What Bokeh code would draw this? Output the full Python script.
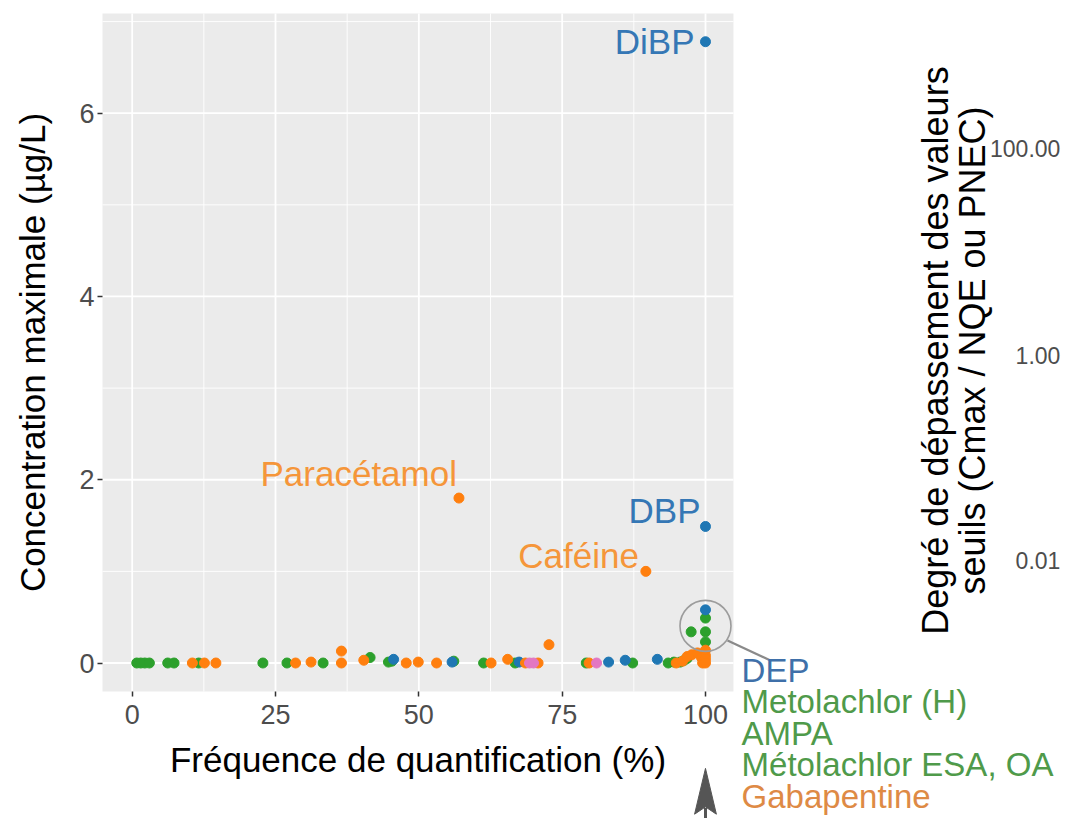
import math
from bokeh.plotting import figure
from bokeh.models import FixedTicker, Label, LinearAxis, Range1d
from bokeh.embed import file_html
from bokeh.resources import INLINE

FONT = "Liberation Sans"

# ---------------- data ----------------
# Fréquence de quantification (%) / concentration maximale (µg/L)
plast_x = [45.6, 55.8, 67.5, 83.1, 86.0, 91.6, 100, 100, 100]
plast_y = [0.04, 0.01, 0.01, 0.01, 0.03, 0.04, 0.58, 1.49, 6.78]

pest_x = [0.8, 1.5, 2.2, 3.0, 6.2, 7.3, 11.6, 22.8, 27.0, 33.3, 41.5, 44.7, 45.3,
          56.1, 61.3, 66.8, 79.2, 87.3, 93.5, 94.5, 95.6, 96.3, 96.8, 97.5,
          100, 100, 100]
pest_y = [0.0, 0.0, 0.0, 0.0, 0.0, 0.0, 0.0, 0.0, 0.0, 0.0, 0.06, 0.01, 0.02,
          0.02, 0.0, 0.0, 0.0, 0.0, 0.0, 0.01, 0.01, 0.03, 0.05, 0.34,
          0.49, 0.34, 0.23]

pharma_x = [10.5, 12.6, 14.6, 28.5, 31.2, 36.5, 36.5, 40.4, 47.8, 49.9, 53.1,
            57.0, 62.6, 65.5, 68.6, 70.8, 72.7, 79.7, 89.6, 94.9, 96.0, 96.8,
            97.6, 98.6, 99.3, 99.5, 100, 100, 100, 100]
pharma_y = [0.0, 0.0, 0.0, 0.0, 0.01, 0.13, 0.0, 0.03, 0.0, 0.01, 0.0,
            1.80, 0.0, 0.04, 0.0, 0.0, 0.20, 0.0, 1.00, 0.0, 0.02, 0.07,
            0.09, 0.11, 0.06, 0.0, 0.14, 0.08, 0.04, 0.0]

autre_x = [69.3, 70.0, 81.0]
autre_y = [0.0, 0.0, 0.0]

named = ["DiBP", "DBP", "Paracétamol", "Caféine"]
named_x = [100, 100, 57.0, 89.6]
named_y = [6.78, 1.49, 1.80, 1.00]

cluster_y = [0.58, 0.49, 0.34, 0.23]
cluster_names = ["DEP", "Metolachlor  (H)", "AMPA", "Métolachlor ESA, OA", "Gabapentine"]

x_ticks = [0, 25, 50, 75, 100]
x_minor = [12.5, 37.5, 62.5, 87.5]
y_ticks = [0, 2, 4, 6]
y_minor = [1, 3, 5, 7]

right_title = ["Degré de dépassement des valeurs", "seuils (Cmax / NQE ou PNEC)"]
right_ticks = ["100.00", "1.00", "0.01"]
right_tick_pos = [5.615, 3.356, 1.119]

# ---------------- layout / style ----------------
PX = (-5.18, 104.88)     # panel limits (data units)
PY = (-0.311, 7.088)

C_BLUE = "#1f77b4"
C_ORANGE = "#ff7f0e"
C_GREEN = "#2ca02c"
C_PINK = "#e377c2"
T_BLUE = "#3577b5"
T_ORANGE = "#f5963a"
T_BLUE2 = "#3f70a9"
T_GREEN2 = "#4f9a4a"
T_ORANGE2 = "#de8a45"

p = figure(width=1061, height=818,
           x_range=Range1d(-22.97, 162.10), y_range=Range1d(-1.697, 7.230),
           output_backend="svg", toolbar_location=None,
           x_axis_location=None, y_axis_location=None,
           min_border=0, min_border_left=0, min_border_right=0,
           min_border_top=0, min_border_bottom=0,
           background_fill_color="white", border_fill_color="white",
           outline_line_color=None)
for g in p.grid:
    g.visible = False

# grey panel + white grid lines
p.quad(left=PX[0], right=PX[1], bottom=PY[0], top=PY[1],
       fill_color="#ebebeb", line_color=None)
p.segment(x0=x_minor, y0=[PY[0]] * len(x_minor), x1=x_minor, y1=[PY[1]] * len(x_minor),
          line_color="white", line_width=0.9)
p.segment(x0=[PX[0]] * len(y_minor), y0=y_minor, x1=[PX[1]] * len(y_minor), y1=y_minor,
          line_color="white", line_width=0.9)
p.segment(x0=x_ticks, y0=[PY[0]] * len(x_ticks), x1=x_ticks, y1=[PY[1]] * len(x_ticks),
          line_color="white", line_width=1.8)
p.segment(x0=[PX[0]] * len(y_ticks), y0=y_ticks, x1=[PX[1]] * len(y_ticks), y1=y_ticks,
          line_color="white", line_width=1.8)

# axes pinned to the panel edges
xaxis = LinearAxis(fixed_location=PY[0], bounds=PX, ticker=FixedTicker(ticks=x_ticks),
                   axis_label="Fréquence de quantification (%)")
yaxis = LinearAxis(fixed_location=PX[0], bounds=PY, ticker=FixedTicker(ticks=y_ticks),
                   axis_label="Concentration maximale (µg/L)")
for ax in (xaxis, yaxis):
    ax.axis_line_color = None
    ax.major_tick_line_color = "#333333"
    ax.major_tick_line_width = 1.5
    ax.major_tick_out = 5
    ax.major_tick_in = 0
    ax.minor_tick_out = 0
    ax.minor_tick_in = 0
    ax.major_label_text_font = FONT
    ax.major_label_text_font_size = "27px"
    ax.major_label_text_color = "#4d4d4d"
    ax.axis_label_text_font = FONT
    ax.axis_label_text_font_size = "35px"
    ax.axis_label_text_font_style = "normal"
    ax.axis_label_text_color = "black"
xaxis.major_label_standoff = 9
xaxis.axis_label_standoff = 12
yaxis.major_label_standoff = 3
yaxis.axis_label_standoff = 24
p.add_layout(xaxis, "below")
p.add_layout(yaxis, "left")

# points
p.scatter(pest_x, pest_y, size=10, color=C_GREEN)
p.scatter(plast_x, plast_y, size=10, color=C_BLUE)
p.scatter(pharma_x, pharma_y, size=10, color=C_ORANGE)
p.scatter(autre_x, autre_y, size=10, color=C_PINK)

# named point labels
lab_style = {
    "DiBP": dict(color=T_BLUE, xo=-11, yo=0),
    "DBP": dict(color=T_BLUE, xo=-5, yo=16),
    "Paracétamol": dict(color=T_ORANGE, xo=-2, yo=25),
    "Caféine": dict(color=T_ORANGE, xo=-7, yo=16),
}
for n, x, y in zip(named, named_x, named_y):
    s = lab_style[n]
    p.add_layout(Label(x=x, y=y, text=n, x_offset=s["xo"], y_offset=s["yo"],
                       text_align="right", text_baseline="middle",
                       text_font=FONT, text_font_size="35px", text_color=s["color"]))

# highlight circle around the cluster at 100 %
cy = (max(cluster_y) + min(cluster_y)) / 2
p.scatter([100], [cy], size=51, fill_color=None, line_color="#9c9c9c", line_width=1.6)

# connector line from circle to the list of names
p.segment(x0=[103.84], y0=[0.2456], x1=[111.34], y1=[0.027],
          line_color="#8a8a8a", line_width=2.2)

name_colors = [T_BLUE2, T_GREEN2, T_GREEN2, T_GREEN2, T_ORANGE2]
for i, (n, c) in enumerate(zip(cluster_names, name_colors)):
    p.add_layout(Label(x=106.3, y=-0.08, y_offset=-31.5 * i, text=n,
                       text_align="left", text_baseline="middle",
                       text_font=FONT, text_font_size="33px", text_color=c))

# arrow pointing up at 100 %
p.segment(x0=[100], y0=[-1.70], x1=[100], y1=[-1.58], line_color="#555555", line_width=3)
p.patch(x=[100, 98.1, 100, 101.9], y=[-1.15, -1.65, -1.57, -1.65],
        fill_color="#555555", line_color="#555555", line_width=1)

# right-hand neighbour panel (partly visible)
for t, xx in zip(right_title, [140.1, 146.6]):
    p.add_layout(Label(x=xx, y=3.41, text=t, angle=math.pi / 2,
                       text_align="center", text_baseline="middle",
                       text_font=FONT, text_font_size="36px", text_color="black"))
for t, yy in zip(right_ticks, right_tick_pos):
    p.add_layout(Label(x=161.9, y=yy, text=t, text_align="right", text_baseline="middle",
                       text_font=FONT, text_font_size="23px", text_color="#4d4d4d"))

open("out.html", "w").write(file_html(p, INLINE))
